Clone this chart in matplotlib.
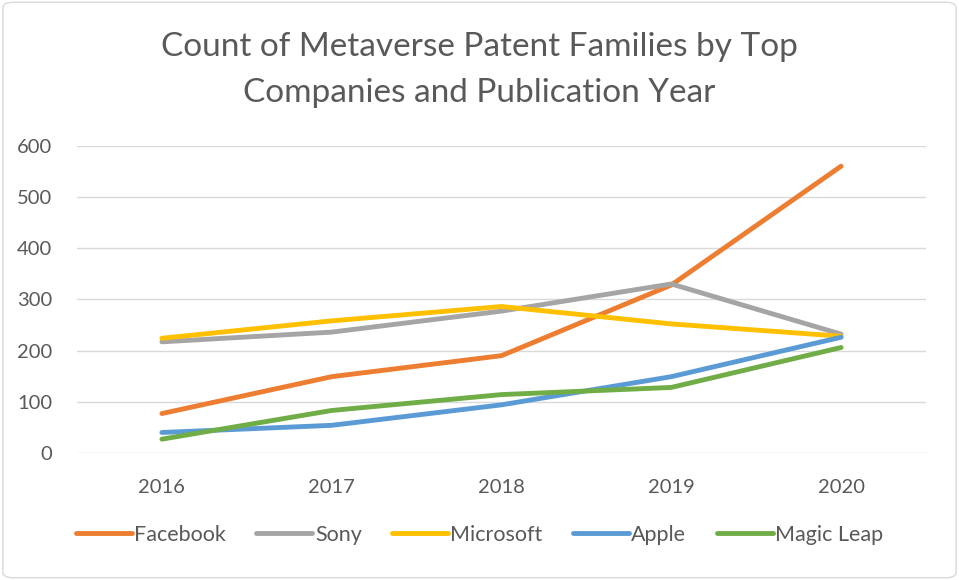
import matplotlib
matplotlib.use("Agg")
import matplotlib.pyplot as plt
from matplotlib.patches import FancyBboxPatch

years = ["2016", "2017", "2018", "2019", "2020"]
facebook = [77, 149, 190, 328, 560]
sony = [217, 236, 277, 330, 232]
microsoft = [224, 258, 286, 252, 228]
apple = [40, 54, 94, 149, 226]
magic_leap = [27, 83, 114, 128, 206]

series = [
    ("Facebook", facebook, "#ED7D31"),
    ("Sony", sony, "#A5A5A5"),
    ("Microsoft", microsoft, "#FFC000"),
    ("Apple", apple, "#5B9BD5"),
    ("Magic Leap", magic_leap, "#70AD47"),
]

plt.rcParams['font.family'] = ['Lato', 'DejaVu Sans']
txt = "#595959"

fig = plt.figure(figsize=(9.59, 5.80), dpi=100)
fig.patches.append(FancyBboxPatch((0.003, 0.004), 0.994, 0.992,
                                  boxstyle="round,pad=0,rounding_size=0.01",
                                  transform=fig.transFigure, fill=False,
                                  edgecolor="#D9D9D9", linewidth=1.0))

ax = fig.add_axes([0.0803, 0.219, 0.8853, 0.5298])
x = list(range(len(years)))
for name, vals, col in series:
    ax.plot(x, vals, color=col, lw=3.5, label=name, solid_capstyle="round",
            solid_joinstyle="round")

ax.set_xlim(-0.5, 4.5)
ax.set_ylim(0, 600)
ax.set_yticks(range(0, 601, 100))
ax.set_xticks(x)
ax.set_xticklabels(years)
ax.grid(axis="y", color="#D9D9D9", lw=1.0)
ax.set_axisbelow(True)
for s in ax.spines.values():
    s.set_visible(False)
ax.tick_params(axis="both", length=0, labelsize=14.5, colors=txt)
ax.tick_params(axis="y", pad=18)
ax.tick_params(axis="x", pad=19)

fig.text(0.5, 1 - 47 / 580, "Count of Metaverse Patent Families by Top",
         ha="center", va="center", fontsize=24, color=txt)
fig.text(0.5, 1 - 93 / 580, "Companies and Publication Year",
         ha="center", va="center", fontsize=24, color=txt)

leg = fig.legend(loc="center", bbox_to_anchor=(0.5, (580 - 535) / 580), ncol=5,
                 frameon=False, fontsize=15.5, handlelength=2.6, handletextpad=0.12,
                 columnspacing=1.4, labelcolor=txt)

fig.savefig("out.png", dpi=100)
